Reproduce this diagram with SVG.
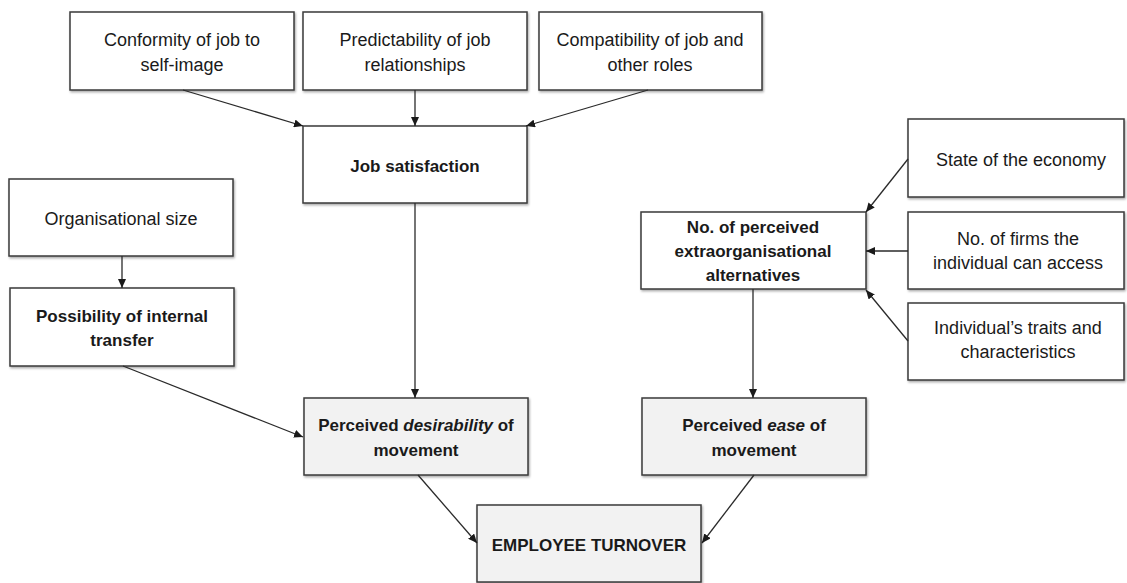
<svg xmlns="http://www.w3.org/2000/svg" width="1127" height="583" viewBox="0 0 1127 583">
<style>
  .box { fill: #ffffff; stroke: #3a3a3a; stroke-width: 1.5; filter: url(#sh); }
  .grey { fill: #f2f2f2; }
  text { font-family: "Liberation Sans", Arial, sans-serif; font-size: 18px; fill: #1a1a1a; text-anchor: middle; }
  .b { font-weight: bold; font-size: 17px; }
  .conn line { stroke: #2a2a2a; stroke-width: 1.3; marker-end: url(#arr); }
</style>
<defs>
  <filter id="sh" x="-5%" y="-5%" width="112%" height="115%">
    <feDropShadow dx="1" dy="1.5" stdDeviation="0.8" flood-color="#000" flood-opacity="0.35"/>
  </filter>
  <marker id="arr" markerWidth="10" markerHeight="8" refX="9" refY="4" orient="auto" markerUnits="userSpaceOnUse">
    <path d="M0,0 L9,4 L0,8 z" fill="#1a1a1a"/>
  </marker>
</defs>
<rect width="1127" height="583" fill="#ffffff"/>

<g id="conformity">
  <rect class="box" x="70" y="12" width="224" height="78"/>
  <text x="182" y="46">Conformity of job to</text>
  <text x="182" y="71">self-image</text>
</g>
<g id="predictability">
  <rect class="box" x="303" y="12" width="224" height="78"/>
  <text x="415" y="46">Predictability of job</text>
  <text x="415" y="71">relationships</text>
</g>
<g id="compatibility">
  <rect class="box" x="539" y="12" width="223" height="78"/>
  <text x="650" y="46">Compatibility of job and</text>
  <text x="650" y="71">other roles</text>
</g>
<g id="job-satisfaction">
  <rect class="box" x="303" y="126" width="224" height="77"/>
  <text class="b" x="415" y="172">Job satisfaction</text>
</g>
<g id="org-size">
  <rect class="box" x="9" y="179" width="224" height="77"/>
  <text x="121" y="225">Organisational size</text>
</g>
<g id="internal-transfer">
  <rect class="box" x="10" y="288" width="224" height="78"/>
  <text class="b" x="122" y="322">Possibility of internal</text>
  <text class="b" x="122" y="346">transfer</text>
</g>
<g id="desirability">
  <rect class="box grey" x="304" y="398" width="224" height="77"/>
  <text class="b" x="416" y="431">Perceived <tspan font-style="italic">desirability</tspan> of</text>
  <text class="b" x="416" y="456">movement</text>
</g>
<g id="alternatives">
  <rect class="box" x="641" y="212" width="225" height="77"/>
  <text class="b" x="753" y="233">No. of perceived</text>
  <text class="b" x="753" y="257">extraorganisational</text>
  <text class="b" x="753" y="281">alternatives</text>
</g>
<g id="ease">
  <rect class="box grey" x="642" y="398" width="224" height="77"/>
  <text class="b" x="754" y="431">Perceived <tspan font-style="italic">ease</tspan> of</text>
  <text class="b" x="754" y="456">movement</text>
</g>
<g id="economy">
  <rect class="box" x="908" y="119" width="216" height="78"/>
  <text x="1021" y="166">State of the economy</text>
</g>
<g id="firms">
  <rect class="box" x="908" y="212" width="216" height="77"/>
  <text x="1018" y="245">No. of firms the</text>
  <text x="1018" y="269">individual can access</text>
</g>
<g id="traits">
  <rect class="box" x="908" y="303" width="216" height="77"/>
  <text x="1018" y="334">Individual’s traits and</text>
  <text x="1018" y="358">characteristics</text>
</g>
<g id="turnover">
  <rect class="box grey" x="477" y="505" width="224" height="77"/>
  <text class="b" x="589" y="551">EMPLOYEE TURNOVER</text>
</g>

<g id="connectors" class="conn">
  <line x1="183" y1="90" x2="303" y2="126"/>
  <line x1="415" y1="90" x2="415" y2="126"/>
  <line x1="648" y1="90" x2="526" y2="126"/>
  <line x1="415" y1="203" x2="415" y2="398"/>
  <line x1="122" y1="256" x2="122" y2="288"/>
  <line x1="123" y1="366" x2="303" y2="437"/>
  <line x1="908" y1="159" x2="866" y2="212"/>
  <line x1="908" y1="251" x2="866" y2="251"/>
  <line x1="908" y1="341" x2="866" y2="290"/>
  <line x1="753" y1="289" x2="753" y2="398"/>
  <line x1="418" y1="475" x2="477" y2="543"/>
  <line x1="754" y1="475" x2="702" y2="543"/>
</g>
</svg>
